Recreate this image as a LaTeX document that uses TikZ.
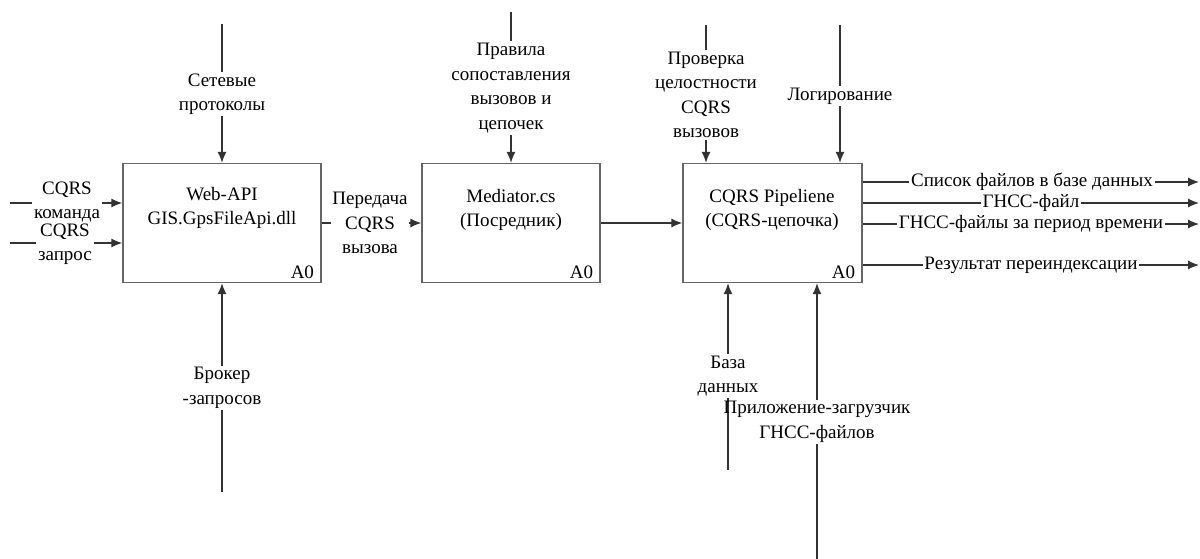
\documentclass[tikz,border=0pt]{standalone}
\usepackage{fontspec}
\setmainfont{Liberation Serif}
\usetikzlibrary{arrows.meta}
\newcommand\lblfont{\fontsize{19}{24.5}\selectfont}
\tikzset{
  fn/.style={draw=black!60, line width=1.4pt, minimum height=119pt, inner sep=0pt},
  lbl/.style={font=\lblfont, align=center, inner sep=1.5pt},
  wire/.style={draw=black!80, line width=1.1pt},
  arr/.style={wire, -{Latex[length=11pt,width=9pt]}},
}
\begin{document}
\begin{tikzpicture}[x=1pt,y=-1pt]
\useasboundingbox[fill=white] (0,0) rectangle (1200,559);

% function boxes
\node[fn, minimum width=198pt] (b1) at (222,223) {};
\node[fn, minimum width=178pt] (b2) at (511,223) {};
\node[fn, minimum width=179pt] (b3) at (772.5,223) {};
\node[lbl] (t1) at (222,208) {Web-API\\GIS.GpsFileApi.dll};
\node[lbl] (t2) at (511,210) {Mediator.cs\\(Посредник)};
\node[lbl] (t3) at (772,210) {CQRS Pipeliene\\(CQRS-цепочка)};
\node[lbl, anchor=south east] (a1) at ([xshift=-6pt,yshift=3pt]b1.south east) {A0};
\node[lbl, anchor=south east] (a2) at ([xshift=-6pt,yshift=3pt]b2.south east) {A0};
\node[lbl, anchor=south east] (a3) at ([xshift=-6pt,yshift=3pt]b3.south east) {A0};

% inputs
\coordinate (in1) at (10,203);
\coordinate (in2) at (10,243);
\node[lbl] (li1) at (67,202) {CQRS\\команда};
\node[lbl] (li2) at (65,244) {CQRS\\запрос};
\draw[wire] (in1) -- (li1.west |- in1);
\draw[arr] (li1.east |- in1) -- (in1 -| b1.west);
\draw[wire] (in2) -- (li2.west |- in2);
\draw[arr] (li2.east |- in2) -- (in2 -| b1.west);

% b1 -> b2 -> b3
\node[lbl] (l12) at (370,223) {Передача\\CQRS\\вызова};
\draw[wire] (l12.west -| b1.east) -- (l12.west);
\draw[arr] (l12.east) -- (l12.east -| b2.west);
\draw[arr] (b2.east) -- (b3.west);

% controls
\coordinate (c1) at (222,24);
\node[lbl] (lc1) at (222,94) {Сетевые\\протоколы};
\draw[wire] (c1) -- (lc1.north);
\draw[arr] (lc1.south) -- (lc1.south |- b1.north);

\coordinate (c2) at (511,12);
\node[lbl] (lc2) at (511,88) {Правила\\сопоставления\\вызовов и\\цепочек};
\draw[wire] (c2) -- (lc2.north);
\draw[arr] (lc2.south) -- (lc2.south |- b2.north);

\coordinate (c3) at (706,25);
\node[lbl] (lc3) at (706,95) {Проверка\\целостности\\CQRS\\вызовов};
\draw[wire] (c3) -- (lc3.north);
\draw[arr] (lc3.south) -- (lc3.south |- b3.north);

\coordinate (c4) at (840,25);
\node[lbl] (lc4) at (840,96) {Логирование};
\draw[wire] (c4) -- (lc4.north);
\draw[arr] (lc4.south) -- (lc4.south |- b3.north);

% mechanisms
\node[lbl] (lm1) at (222,388) {Брокер\\-запросов};
\coordinate (m1) at (222,492);
\draw[arr] (lm1.north) -- (lm1.north |- b1.south);
\draw[wire] (lm1.south) -- (m1);

\node[lbl] (lm2) at (728,376) {База\\данных};
\coordinate (m2) at (728,470);
\draw[arr] (lm2.north) -- (lm2.north |- b3.south);
\draw[wire] (lm2.south) -- (m2);

\node[lbl] (lm3) at (817,422) {Приложение-загрузчик\\ГНСС-файлов};
\coordinate (m3) at (817,559);
\draw[arr] (lm3.north) -- (lm3.north |- b3.south);
\draw[wire] (lm3.south) -- (m3);

% outputs
\node[lbl] (lo1) at (1032,182) {Список файлов в базе данных};
\node[lbl] (lo2) at (1031,203) {ГНСС-файл};
\node[lbl] (lo3) at (1031,224) {ГНСС-файлы за период времени};
\node[lbl] (lo4) at (1031,265) {Результат переиндексации};
\coordinate (o1) at (1199,182);
\coordinate (o2) at (1199,203);
\coordinate (o3) at (1199,224);
\coordinate (o4) at (1199,265);
\foreach \i in {1,2,3,4}{
  \draw[wire] (lo\i.west -| b3.east) -- (lo\i.west);
  \draw[arr] (lo\i.east) -- (o\i);
}
\end{tikzpicture}
\end{document}
